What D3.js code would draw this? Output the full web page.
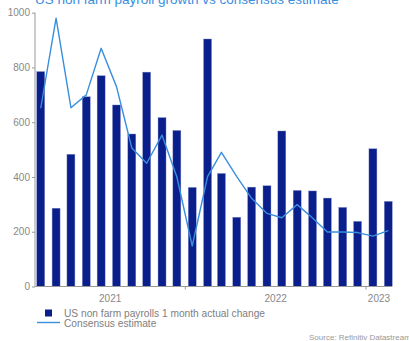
<!DOCTYPE html>
<html>
<head>
<meta charset="utf-8">
<script src="https://cdn.jsdelivr.net/npm/d3@7"></script>
<style>
  body { margin: 0; background: #fff; }
  text { font-family: "Liberation Sans", Arial, sans-serif; }
</style>
</head>
<body>
<svg id="chart" width="409" height="341"></svg>
<script>
// monthly data, March 2021 -> February 2023
var mois = ["2021-03","2021-04","2021-05","2021-06","2021-07","2021-08","2021-09","2021-10",
            "2021-11","2021-12","2022-01","2022-02","2022-03","2022-04","2022-05","2022-06",
            "2022-07","2022-08","2022-09","2022-10","2022-11","2022-12","2023-01","2023-02"];
var payrolls = [785, 286, 483, 693, 770, 663, 557, 783, 617, 570, 362, 904,
                413, 253, 363, 368, 568, 351, 349, 323, 289, 238, 503, 311];
var consensus = [651, 980, 653, 700, 870, 730, 506, 450, 553, 400, 148, 401,
                 490, 401, 322, 267, 251, 299, 250, 199, 199, 197, 184, 204];
var yTicks = [0, 200, 400, 600, 800, 1000];
var annees = [2021, 2022, 2023];

var svg = d3.select("#chart");
var parse = d3.timeParse("%Y-%m");

//-------------------scales----------------------------------------
var x = d3.scaleTime()
    .domain([new Date(2021, 2, 1), new Date(2023, 2, 1)])
    .range([33.8, 395.2]);
var y = d3.scaleLinear().domain([0, 1000]).range([286.5, 12.7]);

var axeGauche = 35, axeDroite = 392;
var milieu = function(m) { var d = parse(m); return x(d3.timeDay.offset(d, 14)); };

//-------------------title----------------------------------------
svg.append("text")
    .attr("x", 35).attr("y", 4)
    .attr("font-size", 13.5)
    .attr("fill", "#3a8ede")
    .text("US non farm payroll growth vs consensus estimate");

//-------------------y axis----------------------------------------
var gy = svg.append("g")
    .attr("transform", "translate(" + axeGauche + ",0)")
    .call(d3.axisLeft(y).tickValues(yTicks).tickSize(3).tickPadding(2).tickFormat(d3.format("d")));
gy.select(".domain").remove();
gy.selectAll(".tick line").attr("stroke", "#999");
gy.selectAll(".tick text").attr("fill", "#888").attr("font-size", 10)
    .style("font-family", "'Liberation Sans', Arial, sans-serif");
svg.append("line")
    .attr("x1", axeGauche).attr("x2", axeGauche)
    .attr("y1", y(1000)).attr("y2", y(0))
    .attr("stroke", "#999");

//-------------------bars----------------------------------------
svg.selectAll("rect.barre")
    .data(payrolls)
    .enter().append("rect")
    .attr("class", "barre")
    .attr("x", function(d, i) { return milieu(mois[i]) - 4; })
    .attr("width", 8)
    .attr("y", function(d) { return y(d); })
    .attr("height", function(d) { return y(0) - y(d); })
    .attr("fill", "#0a1e8c")
    .attr("stroke", "#8a96cc")
    .attr("stroke-width", 0.4);

//-------------------consensus line----------------------------------------
var ligne = d3.line()
    .x(function(d, i) { return milieu(mois[i]); })
    .y(function(d) { return y(d); });
svg.append("path")
    .datum(consensus)
    .attr("d", ligne)
    .attr("fill", "none")
    .attr("stroke", "#3a8ede")
    .attr("stroke-width", 1.4)
    .attr("stroke-linejoin", "round");

//-------------------x axis----------------------------------------
svg.append("line")
    .attr("x1", axeGauche).attr("x2", axeDroite)
    .attr("y1", y(0)).attr("y2", y(0))
    .attr("stroke", "#999");

var bornes = [new Date(2022, 0, 1), new Date(2023, 0, 1)];
svg.selectAll("line.ticky")
    .data(bornes)
    .enter().append("line")
    .attr("class", "ticky")
    .attr("x1", function(d) { return x(d); }).attr("x2", function(d) { return x(d); })
    .attr("y1", y(0)).attr("y2", y(0) + 3)
    .attr("stroke", "#999");

svg.selectAll("text.annee")
    .data(annees)
    .enter().append("text")
    .attr("class", "annee")
    .attr("x", function(a) {
        var g = Math.max(axeGauche, x(new Date(a, 0, 1)));
        var dr = Math.min(axeDroite, x(new Date(a + 1, 0, 1)));
        return (g + dr) / 2;
    })
    .attr("y", 302)
    .attr("text-anchor", "middle")
    .attr("font-size", 10)
    .attr("fill", "#888")
    .text(function(a) { return a; });

//-------------------legend----------------------------------------
svg.append("rect")
    .attr("x", 45).attr("y", 309.5)
    .attr("width", 7).attr("height", 7)
    .attr("fill", "#0a1e8c");
svg.append("text")
    .attr("x", 64).attr("y", 316.5)
    .attr("font-size", 10.2)
    .attr("fill", "#808080")
    .text("US non farm payrolls 1 month actual change");
svg.append("line")
    .attr("x1", 37).attr("x2", 60)
    .attr("y1", 322.5).attr("y2", 322.5)
    .attr("stroke", "#3a8ede")
    .attr("stroke-width", 1.4);
svg.append("text")
    .attr("x", 64).attr("y", 327)
    .attr("font-size", 10.2)
    .attr("fill", "#808080")
    .text("Consensus estimate");

svg.append("text")
    .attr("x", 309).attr("y", 340)
    .attr("font-size", 8)
    .attr("fill", "#999")
    .text("Source: Refinitiv Datastream");
</script>
</body>
</html>
